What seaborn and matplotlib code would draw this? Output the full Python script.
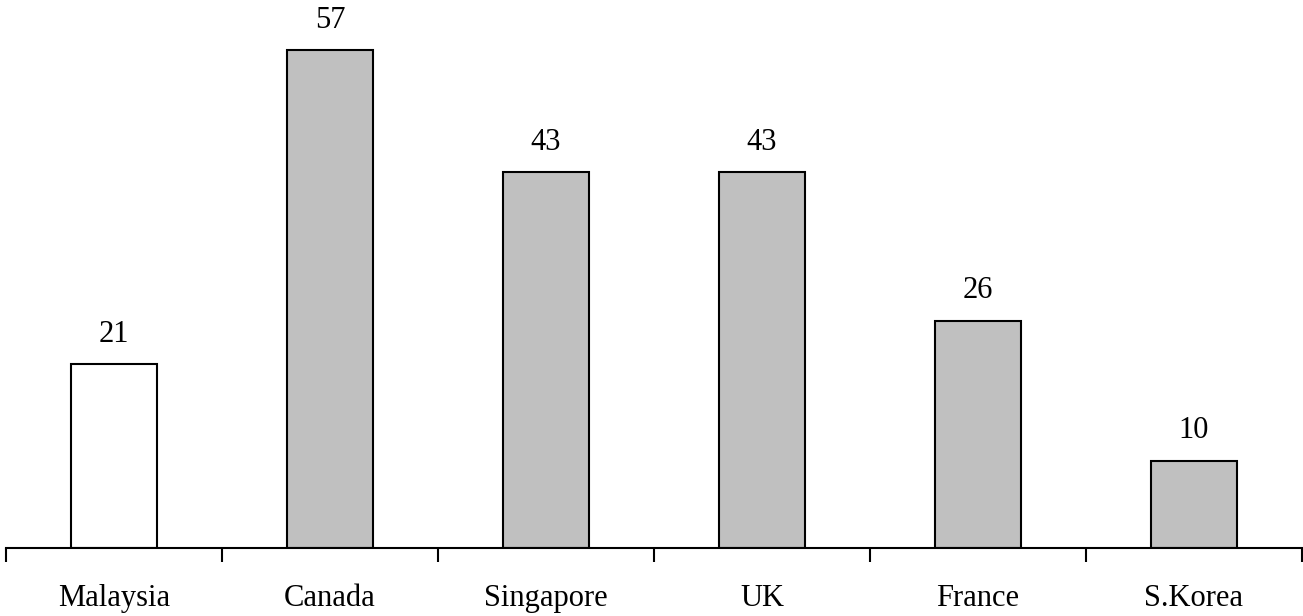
import matplotlib
matplotlib.use("Agg")
import matplotlib.pyplot as plt
import seaborn as sns
import numpy as np

countries = ["Malaysia", "Canada", "Singapore", "UK", "France", "S.Korea"]
values = [21, 57, 43, 43, 26, 10]
bar_colors = ["#FFFFFF", "#C0C0C0", "#C0C0C0", "#C0C0C0", "#C0C0C0", "#C0C0C0"]

sns.set_style("white")
plt.rcParams["font.family"] = ["Liberation Serif", "DejaVu Serif"]

fig = plt.figure(figsize=(13.03, 6.16), dpi=100)
ax = fig.add_axes([6 / 1303, 68 / 616, 1296 / 1303, 548 / 616])

sns.barplot(x=countries, y=values, hue=countries, palette=bar_colors,
            legend=False, width=0.4, edgecolor="black", linewidth=1.5,
            saturation=1, ax=ax)

for cont in ax.containers:
    ax.bar_label(cont, labels=[f"{v:g}" for v in cont.datavalues],
                 padding=11, fontsize=22, color="black")

ax.set_xlim(-0.5, len(countries) - 0.5)
ax.set_ylim(0, 62.7)

for side in ("top", "right", "left"):
    ax.spines[side].set_visible(False)
ax.spines["bottom"].set_linewidth(1.5)
ax.spines["bottom"].set_color("black")

ax.set_yticks([])
ax.set_xticks(np.arange(len(countries)))
ax.set_xticklabels(countries, fontsize=22, color="black")
ax.tick_params(axis="x", which="major", length=0, pad=26)
ax.set_xticks(np.arange(len(countries) + 1) - 0.5, minor=True)
ax.tick_params(axis="x", which="minor", length=10, width=1.5,
               color="black", direction="out", bottom=True)
ax.set_xlabel("")
ax.set_ylabel("")

fig.savefig("out.png", dpi=100)
